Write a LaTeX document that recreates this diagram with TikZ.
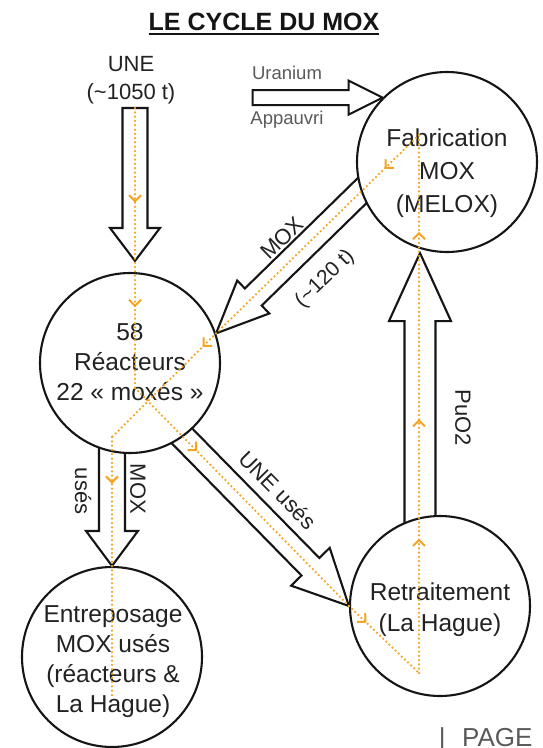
\documentclass[tikz,border=0pt]{standalone}
\usepackage{fontspec}
\setmainfont{Liberation Sans}
\usetikzlibrary{calc,arrows.meta,decorations.markings}
\definecolor{flowc}{HTML}{F5A320}
\definecolor{inkc}{HTML}{151515}
\definecolor{txtc}{HTML}{222222}
\definecolor{greyc}{HTML}{5A5A5A}
\pgfdeclarelayer{back}
\pgfdeclarelayer{arr}
\pgfsetlayers{back,arr,main}
\newcommand{\blockarrow}[5]{%
  \coordinate (bh) at ($(#2)!#5!(#1)$);
  \draw[blk] ($(#1)!#3!90:(#2)$) -- ($(bh)!#3!90:(#2)$) -- ($(bh)!#4!90:(#2)$) -- (#2)
    -- ($(bh)!#4!-90:(#2)$) -- ($(bh)!#3!-90:(#2)$) -- ($(#1)!#3!-90:(#2)$) -- cycle;
}
\tikzset{
  blk/.style={draw=inkc, fill=white, line width=2.1pt, line join=miter},
  circ/.style={circle, draw=inkc, fill=white, line width=2.1pt, minimum size=180pt, inner sep=0pt},
  body/.style={text=txtc, align=center, font=\fontsize{24.5}{30}\selectfont, inner sep=0pt},
  lbl/.style={text=txtc, font=\fontsize{22}{26}\selectfont, inner sep=0pt},
  greylbl/.style={text=greyc, font=\fontsize{18.5}{22}\selectfont, inner sep=0pt},
  ttl/.style={text=inkc, font=\bfseries\fontsize{25}{30}\selectfont, inner sep=0pt},
  flowline/.style={draw=flowc, line width=2.5pt, line cap=round, dash pattern=on 0pt off 4.3pt},
  chev/.style={postaction={decorate, decoration={markings, mark=at position #1 with {\arrow{Straight Barb[length=6pt,width=12pt,line width=2pt]}}}}},
}
\begin{document}
\begin{tikzpicture}[x=1pt,y=-1pt]
\begin{pgfonlayer}{back}
  \fill[white] (0,0) rectangle (542,748);
\end{pgfonlayer}
\useasboundingbox (0,0) rectangle (542,748);

% circles
\node[circ] (fab) at (447,162) {};
\node[circ] (rea) at (130,363) {};
\node[circ] (ent) at (112,657) {};
\node[circ] (ret) at (440,606) {};

% coordinates
\coordinate (une0) at (135,108);
\coordinate (unetip) at ($(rea.north)+(5,-11)$);
\coordinate (u0) at ($(fab.135)+(-130,0)$);
\coordinate (f2) at (135,388);
\coordinate (f4) at (419,673);
\coordinate (f5) at (419,135);
\coordinate (f7) at (112,437);
\coordinate (f8) at (112,697);
\coordinate (moxs) at ($(rea.19)!230pt!(f5)$);
\coordinate (unus) at ($(ret.west)!260pt!(f2)$);
\coordinate (moxd) at ($(ent.north)+(0,-137)$);
\coordinate (puo) at ($(ret.north)+(-20,20)$);
\coordinate (puotip) at ($(fab.south)+(-27,0)$);

% block arrows
\begin{pgfonlayer}{arr}
  \blockarrow{une0}{unetip}{12.5pt}{25pt}{33pt}
  \blockarrow{u0}{fab.135}{7.5pt}{17pt}{34pt}
  \blockarrow{moxs}{rea.19}{12pt}{23pt}{52pt}
  \blockarrow{unus}{ret.west}{12.5pt}{27pt}{55pt}
  \blockarrow{moxd}{ent.north}{13pt}{26pt}{35pt}
  \blockarrow{puo}{puotip}{15.5pt}{31pt}{68pt}
\end{pgfonlayer}

% title
\node[ttl, anchor=base] (title) at (264,30) {LE CYCLE DU MOX};
\draw[inkc, line width=1.8pt] ($(title.base west)+(0,3.8)$) -- ($(title.base east)+(0,3.8)$);

% texts
\node[body, font=\fontsize{24.5}{33}\selectfont] (fabt) at (447,173.4) {Fabrication\\MOX\\(MELOX)};
\node[body] (reat) at (130,362) {58\\Réacteurs\\22 « moxés »};
\node[body] (entt) at (113,662) {Entreposage\\MOX usés\\(réacteurs \&\\La Hague)};
\node[body, font=\fontsize{24.5}{31}\selectfont] (rett) at (440,610) {Retraitement\\(La Hague)};

\node[lbl, align=center, font=\fontsize{22}{28}\selectfont] (une) at (131,80) {UNE\\(\textasciitilde1050 t)};
\node[greylbl] (ura) at (287,73) {Uranium};
\node[greylbl] (app) at (287,120) {Appauvri};

\node[lbl, rotate=44] (moxl) at (282,238) {MOX};
\node[lbl, font=\fontsize{21}{26}\selectfont, rotate=44] (tonl) at (325,279) {(\textasciitilde120 t)};
\node[lbl, rotate=-45.4] (unel) at (278,490) {UNE usés};
\node[lbl, rotate=-90] (puol) at (463,418) {PuO2};
\node[lbl, rotate=-90] (moxdl) at (138,489) {MOX};
\node[lbl, rotate=-90] (usel) at (83,491) {usés};

\node[anchor=base west, text=greyc, font=\fontsize{26}{30}\selectfont, inner sep=0pt] (page) at (438.6,746) {|\hspace{16.6pt}PAGE};

% orange flow
\draw[flowline, chev=0.338, chev=0.711] (une0) -- (f2);
\draw[flowline, chev=0.29] (f2) -- (ret.west);
\draw[flowline, chev=0.25] (ret.west) -- (f4);
\draw[flowline, chev=0.25, chev=0.472, chev=0.82] (f4) -- (f5);
\draw[flowline, chev=0.17] (f5) -- (rea.19);
\draw[flowline, chev=0.13] (rea.19) -- (f7);
\draw[flowline, chev=0.18] (f7) -- (f8);
\end{tikzpicture}
\end{document}
